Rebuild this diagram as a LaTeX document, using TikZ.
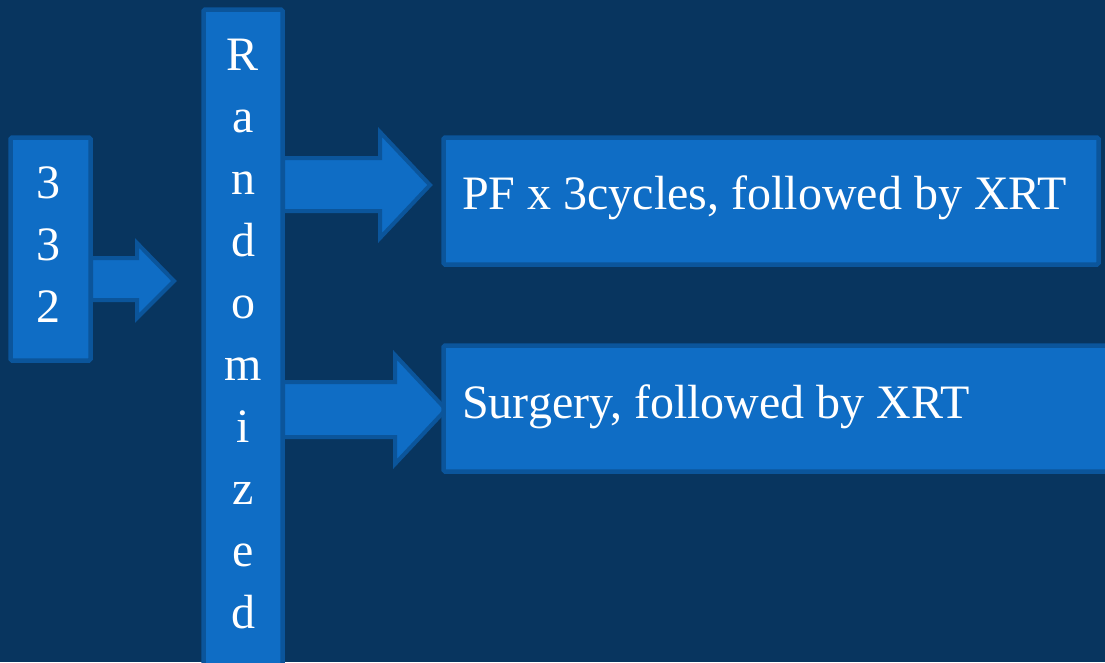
\documentclass[tikz,border=0pt]{standalone}
\usepackage{fontspec}
\setmainfont{Liberation Serif}
\begin{document}
\begin{tikzpicture}[x=1pt,y=-1pt,
  bg/.style={fill=bgblue},
  box/.style={draw=edgeblue, fill=boxblue, line width=4.5pt, rounded corners=1.5pt},
  blockarrow/.style={draw=edgeblue, fill=boxblue, line width=4pt, line join=miter},
  txt/.style={text=white, font=\fontsize{48}{58}\selectfont, inner sep=0pt, anchor=base},
  ltxt/.style={txt, anchor=base west}]
\definecolor{bgblue}{HTML}{08355F}
\definecolor{boxblue}{HTML}{0F6DC5}
\definecolor{edgeblue}{HTML}{0B559B}
\useasboundingbox (0,0) rectangle (1105,662);
\clip (0,0) rectangle (1105,662);
\fill[bg] (0,0) rectangle (1105,662);
% block arrows
\draw[blockarrow] (91,258) -- (137,258) -- (137,243) -- (174,281) -- (137,318) -- (137,300) -- (91,300) -- cycle;
\draw[blockarrow] (283,158) -- (380,158) -- (380,132) -- (430,185) -- (380,238) -- (380,211) -- (283,211) -- cycle;
\draw[blockarrow] (283,382) -- (395,382) -- (395,355) -- (446,409.5) -- (395,464) -- (395,437) -- (283,437) -- cycle;
% boxes
\draw[box] (10.5,137.5) rectangle (90.5,360.5);
\draw[box] (203.5,9.5) rectangle (282.5,700);
\draw[box] (443.5,137.5) rectangle (1098.5,264.5);
\draw[box] (443.5,345.5) rectangle (1130,471.5);
% texts
\node[txt] (n1) at (48,198) {3};
\node[txt] (n2) at (48,260) {3};
\node[txt] (n3) at (48,322) {2};
\node[txt] (r1) at (243,70) {R};
\node[txt] (r2) at (243,132) {a};
\node[txt] (r3) at (243,194) {n};
\node[txt] (r4) at (243,256) {d};
\node[txt] (r5) at (243,318) {o};
\node[txt] (r6) at (243,380) {m};
\node[txt] (r7) at (243,442) {i};
\node[txt] (r8) at (243,504) {z};
\node[txt] (r9) at (243,566) {e};
\node[txt] (r10) at (243,628) {d};
\node[ltxt] (pf) at (462,209) {PF x 3cycles, followed by XRT};
\node[ltxt] (sg) at (462,418) {Surgery, followed by XRT};
\end{tikzpicture}
\end{document}
